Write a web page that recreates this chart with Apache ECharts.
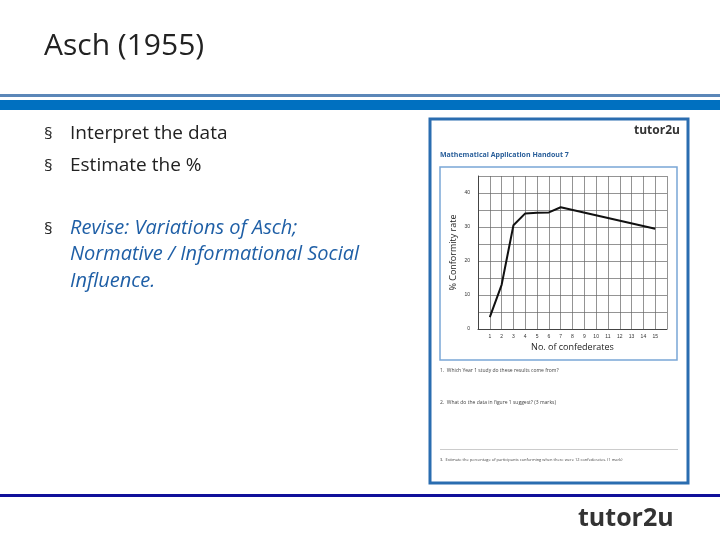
<!DOCTYPE html>
<html><head><meta charset="utf-8">
<script src="https://cdn.jsdelivr.net/npm/echarts@6/dist/echarts.min.js"></script>
<style>html,body{margin:0;padding:0;background:#fff}#c{width:720px;height:540px}</style>
</head><body><div id="c"></div>
<script>
const confederates = [1, 2, 3, 4, 5, 6, 7, 15];
const conformity = [3.5, 13, 30.5, 34, 34.2, 34.3, 35.8, 29.5];
const xTickLabels = ['1','2','3','4','5','6','7','8','9','10','11','12','13','14','15'];
const yTickLabels = [0, 10, 20, 30, 40];
const title = 'Asch (1955)';
const bullets = ['Interpret the data', 'Estimate the %'];
const reviseLines = ['Revise: Variations of Asch;', 'Normative / Informational Social', 'Influence.'];

const chart = echarts.init(document.getElementById('c'));
const F = 'Open Sans, Lato, sans-serif';
const g = [
  {type:'text', left:44, top:31, style:{text:title, font:'30px '+F, fill:'#222'}},
  {type:'rect', shape:{x:0,y:94,width:720,height:3}, style:{fill:'#5b87b8'}},
  {type:'rect', shape:{x:0,y:100,width:720,height:10}, style:{fill:'#0070c0'}},
  {type:'rect', shape:{x:0,y:494,width:720,height:3}, style:{fill:'#10109a'}},
  {type:'text', left:578, top:506, style:{text:'tutor2u', font:'bold 25px '+F, fill:'#333'}},
  {type:'rect', shape:{x:430,y:119,width:258,height:364}, style:{fill:'#fff', stroke:'#2a6db0', lineWidth:3}},
  {type:'rect', shape:{x:440,y:167,width:237,height:193}, style:{fill:'none', stroke:'#7aa6d6', lineWidth:1.5}},
  {type:'text', left:634, top:125, style:{text:'tutor2u', font:'bold 12px '+F, fill:'#333'}},
  {type:'text', left:440, top:151, style:{text:'Mathematical Application Handout 7', font:'bold 7px '+F, fill:'#2a5f9a'}},
  {type:'text', left:440, top:368, style:{text:'1.  Which Year 1 study do these results come from?', font:'5px '+F, fill:'#444'}},
  {type:'text', left:440, top:400, style:{text:'2.  What do the data in figure 1 suggest? (3 marks)', font:'5px '+F, fill:'#444'}},
  {type:'rect', shape:{x:440,y:449,width:238,height:1}, style:{fill:'#ccc'}},
  {type:'text', left:440, top:458, style:{text:'3.  Estimate the percentage of participants conforming when there were 12 confederates. (1 mark)', font:'4px '+F, fill:'#444'}}
];
bullets.forEach((b,i)=>{
  g.push({type:'text', left:44, top:126+i*32, style:{text:'§', font:'17px '+F, fill:'#222'}});
  g.push({type:'text', left:70, top:124+i*32, style:{text:b, font:'19px '+F, fill:'#222'}});
});
g.push({type:'text', left:44, top:221, style:{text:'§', font:'17px '+F, fill:'#222'}});
reviseLines.forEach((t,i)=>{
  g.push({type:'text', left:70, top:218+i*26.5, style:{text:t, font:'italic 20px '+F, fill:'#1f5fa6'}});
});

chart.setOption({
  animation:false,
  graphic:g,
  grid:{left:478, right:53, top:176, bottom:211, show:true, borderColor:'#444', borderWidth:1},
  xAxis:{type:'value', min:0, max:16, interval:1,
    name:'No. of confederates', nameLocation:'middle', nameGap:14,
    nameTextStyle:{fontSize:9, color:'#222', fontFamily:F},
    axisLine:{lineStyle:{color:'#444'}}, axisTick:{show:false},
    axisLabel:{fontSize:5, color:'#333', margin:5, formatter:v=>xTickLabels.includes(String(v))?String(v):''},
    splitLine:{lineStyle:{color:'#666', width:0.7}}},
  yAxis:{type:'value', min:0, max:45, interval:5,
    name:'% Conformity rate', nameLocation:'middle', nameGap:20, nameRotate:90,
    nameTextStyle:{fontSize:9, color:'#222', fontFamily:F},
    axisLine:{lineStyle:{color:'#444'}}, axisTick:{show:false},
    axisLabel:{fontSize:5, color:'#333', margin:8, formatter:v=>yTickLabels.includes(v)?String(v):''},
    splitLine:{lineStyle:{color:'#666', width:0.7}}},
  series:[{type:'line', data:confederates.map((x,i)=>[x,conformity[i]]), symbol:'none',
    lineStyle:{color:'#111', width:2}}]
});
</script></body></html>
